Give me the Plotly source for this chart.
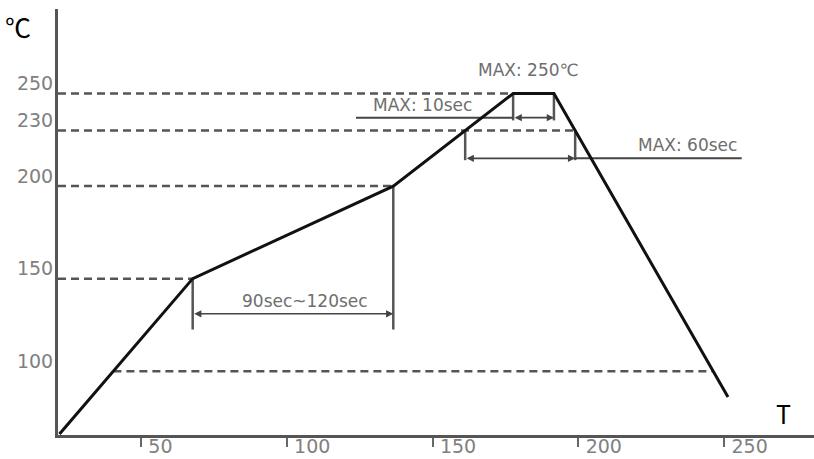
import numpy as np
import plotly.graph_objects as go

# ---------------- data ----------------
# reflow profile: time (T) and temperature (℃)
profile_time = [22.0, 67.7, 136.5, 177.6, 191.6, 251.3]
profile_temp = [66.0, 150.0, 200.0, 250.0, 250.0, 86.0]

temp_ticks = [100, 150, 200, 230, 250]
time_ticks = [50, 100, 150, 200, 250]

# dimension-line levels (temperature) and label texts
soak_arrow_temp = 131.0
soak_bottom_temp = 122.5
soak_label = "90sec~120sec"

liquidus_temp = 230.0
liquidus_arrow_temp = 215.0
liquidus_bottom_temp = 214.0
liquidus_line_end = 256.0
liquidus_label = "MAX: 60sec"

peak_temp = 250.0
peak_arrow_temp = 237.0
peak_bottom_temp = 235.5
peak_line_start = 123.7
peak_time_label = "MAX: 10sec"
peak_label = "MAX: 250℃"

X_RANGE = [21.5, 280.8]
Y_RANGE = [65.5, 295.7]

# ---------------- derived positions on the curve ----------------
asc_t = np.array(profile_time[:4])
asc_v = np.array(profile_temp[:4])
desc_t = np.array(profile_time[4:][::-1])
desc_v = np.array(profile_temp[4:][::-1])


def asc_x(temp):
    return float(np.interp(temp, asc_v, asc_t))


def desc_x(temp):
    return float(np.interp(temp, desc_v, desc_t))


knee_x = profile_time[1]
soak_end_x = profile_time[2]
peak_start_x = profile_time[3]
peak_end_x = profile_time[4]
liq_in_x = asc_x(liquidus_temp)
liq_out_x = desc_x(liquidus_temp)

DASH_COLOR = "#555555"
LINE_GRAY = "#555555"
TEXT_GRAY = "#6e6e6e"
FONT = "DejaVu Sans, Noto Sans CJK KR"

fig = go.Figure()


def add_line(xs, ys, color=LINE_GRAY, width=2.5, dash=None):
    fig.add_trace(go.Scatter(
        x=xs, y=ys, mode="lines", hoverinfo="skip", showlegend=False,
        line=dict(color=color, width=width, dash=dash),
    ))


# dashed reference levels
x0 = X_RANGE[0]
add_line([x0, peak_start_x], [250, 250], DASH_COLOR, 2.5, "8px,5px")
add_line([x0, liq_out_x], [230, 230], DASH_COLOR, 2.5, "8px,5px")
add_line([x0, soak_end_x], [200, 200], DASH_COLOR, 2.5, "8px,5px")
add_line([x0, knee_x], [150, 150], DASH_COLOR, 2.5, "8px,5px")
add_line([asc_x(100), desc_x(100)], [100, 100], DASH_COLOR, 2.5, "8px,5px")

# vertical extension lines
add_line([knee_x, knee_x], [150, soak_bottom_temp])
add_line([soak_end_x, soak_end_x], [200, soak_bottom_temp])
add_line([liq_in_x, liq_in_x], [liquidus_temp, liquidus_bottom_temp])
add_line([liq_out_x, liq_out_x], [liquidus_temp, liquidus_bottom_temp])
add_line([peak_start_x, peak_start_x], [peak_temp, peak_bottom_temp])
add_line([peak_end_x, peak_end_x], [peak_temp, peak_bottom_temp])

# plain horizontal leader lines
add_line([peak_line_start, peak_start_x], [peak_arrow_temp, peak_arrow_temp], "#444444", 2)
add_line([liq_out_x, liquidus_line_end], [liquidus_arrow_temp, liquidus_arrow_temp], "#444444", 2)

# profile curve
add_line(profile_time, profile_temp, "#111111", 3)

# double-headed arrows
for (xa, xb, yv) in [
    (knee_x, soak_end_x, soak_arrow_temp),
    (liq_in_x, liq_out_x, liquidus_arrow_temp),
    (peak_start_x, peak_end_x, peak_arrow_temp),
]:
    fig.add_annotation(
        x=xb, y=yv, ax=xa, ay=yv, xref="x", yref="y", axref="x", ayref="y",
        text="", showarrow=True, arrowhead=2, arrowside="end+start",
        arrowsize=0.9, arrowwidth=1.6, arrowcolor="#444444", standoff=0, startstandoff=0,
    )

# labels
fig.add_annotation(x=(knee_x + soak_end_x) / 2 + 4, y=soak_arrow_temp, yanchor="bottom",
                   text=soak_label, showarrow=False, yshift=1,
                   font=dict(family=FONT, size=17, color=TEXT_GRAY))
fig.add_annotation(x=237.4, y=liquidus_arrow_temp, yanchor="bottom",
                   text=liquidus_label, showarrow=False, yshift=1,
                   font=dict(family=FONT, size=17, color=TEXT_GRAY))
fig.add_annotation(x=146.4, y=peak_arrow_temp, yanchor="bottom",
                   text=peak_time_label, showarrow=False, yshift=1,
                   font=dict(family=FONT, size=17, color=TEXT_GRAY))
fig.add_annotation(x=183.0, y=peak_temp, yanchor="bottom",
                   text=peak_label, showarrow=False, yshift=12,
                   font=dict(family=FONT, size=17, color=TEXT_GRAY))

# axis titles
fig.add_annotation(x=-0.053, y=0.96, xref="paper", yref="paper", text="℃",
                   xanchor="center", yanchor="middle", showarrow=False,
                   font=dict(family="Noto Sans CJK KR", size=26, color="#000000"))
fig.add_annotation(x=0.959, y=0.0516, xref="paper", yref="paper", text="T",
                   xanchor="center", yanchor="middle", showarrow=False,
                   font=dict(family="Noto Sans CJK KR", size=25, color="#000000"))

fig.update_layout(
    width=814, height=459, autosize=False,
    margin=dict(l=58, r=0, t=9, b=24),
    paper_bgcolor="white", plot_bgcolor="white",
    showlegend=False,
    xaxis=dict(
        range=X_RANGE, showgrid=False, zeroline=False,
        showline=True, linecolor="#555555", linewidth=3,
        tickmode="array", tickvals=time_ticks, ticktext=[str(v) for v in time_ticks],
        ticks="outside", ticklen=9, tickwidth=1.5, tickcolor="#666666",
        ticklabelposition="outside right", ticklabelshift=5, ticklabelstandoff=-8,
        tickfont=dict(family=FONT, size=19, color="#808080"),
    ),
    yaxis=dict(
        range=Y_RANGE, showgrid=False, zeroline=False,
        showline=True, linecolor="#555555", linewidth=3,
        tickmode="array", tickvals=temp_ticks, ticktext=[str(v) for v in temp_ticks],
        ticks="", ticklabelshift=-10, ticklabelstandoff=-2,
        tickfont=dict(family=FONT, size=19, color="#808080"),
    ),
)

fig.write_html("out.html", config={"displayModeBar": False},
               post_script="document.body.style.margin='0';")
